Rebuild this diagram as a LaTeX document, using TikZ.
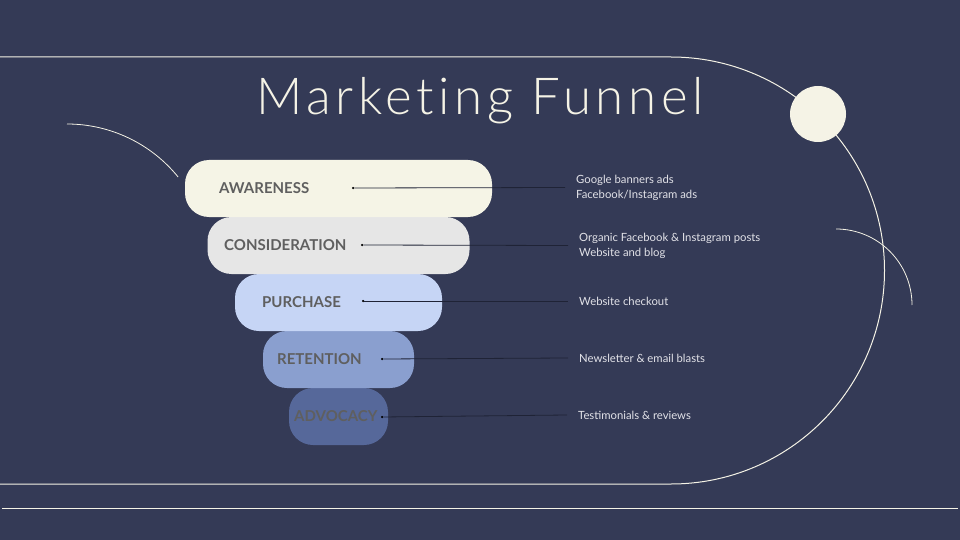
\documentclass[tikz,border=0pt]{standalone}
\usepackage{fontspec}
\setmainfont{Lato}
\newfontfamily\titlefont[LetterSpace=9, Ligatures={NoCommon}]{Lato Light}
\usetikzlibrary{positioning}
\definecolor{bg}{HTML}{343A56}
\definecolor{cream}{HTML}{F5F3E6}
\definecolor{aware}{HTML}{F5F4E6}
\definecolor{consid}{HTML}{E6E6E6}
\definecolor{purch}{HTML}{C6D5F5}
\definecolor{retent}{HTML}{8A9FCF}
\definecolor{advoc}{HTML}{56689A}
\definecolor{tagtext}{HTML}{5F5F5F}
\definecolor{notetext}{HTML}{E2E2E8}
\definecolor{wire}{HTML}{1F2336}

\begin{document}
\begin{tikzpicture}[x=1pt,y=-1pt,
pill/.style={rounded corners=24pt, minimum height=57pt, inner sep=0pt},
tag/.style={font=\bfseries\fontsize{15}{18}\selectfont, text=tagtext, inner sep=0pt, anchor=west},
note/.style={font=\fontsize{11.3}{15}\selectfont, text=notetext, align=left, anchor=west, inner xsep=11pt, inner ysep=0pt},
dot/.style={circle, fill=black, inner sep=0pt, minimum size=2.5pt},
]

\fill[bg] (0,0) rectangle (960,540);
\useasboundingbox (0,0) rectangle (960,540);

% frame and arcs
\draw[cream, line width=1pt] (0,57) -- (671,57) arc[start angle=-90, end angle=90, radius=213.5] -- (0,484);
\draw[cream, line width=0.8pt] (836,229) arc[start angle=-90, end angle=0, radius=76];
\draw[cream, line width=0.8pt] (67,124) arc[start angle=-90, end angle=-39, radius=143];
\draw[cream, line width=1pt] (2,508) -- (958,508);
\fill[cream] (818,114) circle[radius=28];

\node[font=\titlefont\fontsize{51}{60}\selectfont, text=cream, anchor=base] (title) at (480,115) {Marketing Funnel};

% funnel
\node[pill, fill=advoc, minimum width=99pt] (p5) at (338.5,416.5) {};
\node[pill, fill=retent, minimum width=151pt] (p4) at (338.5,359.5) {};
\node[pill, fill=purch, minimum width=207pt] (p3) at (338.5,302.5) {};
\node[pill, fill=consid, minimum width=262pt] (p2) at (338.5,245.5) {};
\node[pill, fill=aware, minimum width=307pt] (p1) at (338.5,188.5) {};

\node[tag] (t1) at (219,188) {AWARENESS};
\node[tag] (t2) at (224,245) {CONSIDERATION};
\node[tag] (t3) at (262,302) {PURCHASE};
\node[tag] (t4) at (277,359) {RETENTION};
\node[tag] (t5) at (294,416) {ADVOCACY};

\node[dot] (d1) at (353,188) {};
\node[dot] (d2) at (362,245) {};
\node[dot] (d3) at (363,301) {};
\node[dot] (d4) at (382,359) {};
\node[dot] (d5) at (382,417) {};

\node[note] (n1) at (565,187.5) {Google banners ads\\Facebook/Instagram ads};
\node[note] (n2) at (568,245.5) {Organic Facebook \& Instagram posts\\Website and blog};
\node[note] (n3) at (568,301) {Website checkout};
\node[note] (n4) at (568,358) {Newsletter \& email blasts};
\node[note] (n5) at (567,415) {Testimonials \& reviews};

\path[draw=wire, line width=0.8pt]
(d1) edge (n1.west)
(d2) edge (n2.west)
(d3) edge (n3.west)
(d4) edge (n4.west)
(d5) edge (n5.west)
;
\end{tikzpicture}
\end{document}
